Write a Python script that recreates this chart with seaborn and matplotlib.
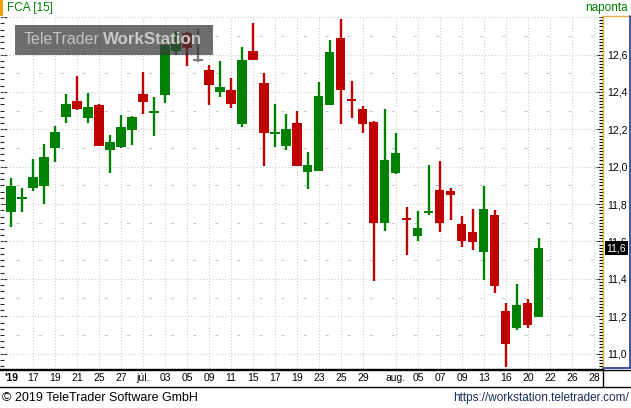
import numpy as np
import pandas as pd
import matplotlib.pyplot as plt
import seaborn as sns
from matplotlib.lines import Line2D
from matplotlib.patches import Rectangle
from matplotlib.ticker import FixedLocator, MultipleLocator, FuncFormatter
from matplotlib.transforms import blended_transform_factory

# Daily FCA prices, 13 Jun - 21 Aug 2019 (Borsa closed on 15 Aug)
opens = [11.759, 11.830, 11.888, 11.898, 12.102, 12.267, 12.351, 12.262, 12.330, 12.091,
         12.105, 12.198, 12.389, 12.292, 12.385, 12.620, 12.715, 12.571, 12.517, 12.401,
         12.410, 12.228, 12.619, 12.448, 12.178, 12.112, 12.234, 11.972, 11.977, 12.330,
         12.688, 12.360, 12.309, 12.239, 11.699, 11.966, 11.722, 11.629, 11.755, 11.875,
         11.870, 11.694, 11.651, 11.545, 11.742, 11.228, 11.139, 11.271, 11.198]
highs = [11.940, 11.886, 12.041, 12.121, 12.218, 12.389, 12.485, 12.394, 12.337, 12.170,
         12.276, 12.271, 12.506, 12.373, 12.690, 12.726, 12.720, 12.736, 12.544, 12.565,
         12.474, 12.640, 12.768, 12.501, 12.335, 12.282, 12.298, 12.079, 12.453, 12.678,
         12.790, 12.458, 12.325, 12.244, 12.309, 12.180, 11.785, 11.763, 12.009, 12.030,
         11.886, 11.736, 11.774, 11.897, 11.769, 11.271, 11.373, 11.293, 11.619]
lows = [11.679, 11.759, 11.872, 11.801, 12.027, 12.235, 12.303, 12.235, 12.112, 11.968,
        12.100, 12.118, 12.283, 12.166, 12.342, 12.597, 12.539, 12.561, 12.330, 12.373,
        12.314, 12.212, 12.571, 12.004, 12.105, 12.089, 12.004, 11.881, 11.977, 12.330,
        12.228, 12.260, 12.180, 11.389, 11.656, 11.961, 11.528, 11.603, 11.742, 11.651,
        11.715, 11.572, 11.556, 11.396, 11.326, 10.930, 11.128, 11.139, 11.198]
closes = [11.897, 11.836, 11.945, 12.052, 12.186, 12.335, 12.310, 12.319, 12.112, 12.132,
          12.212, 12.266, 12.348, 12.296, 12.651, 12.660, 12.635, 12.571, 12.437, 12.426,
          12.335, 12.571, 12.571, 12.180, 12.182, 12.202, 12.004, 12.009, 12.378, 12.613,
          12.410, 12.354, 12.228, 11.699, 12.036, 12.073, 11.718, 11.672, 11.760, 11.699,
          11.849, 11.604, 11.599, 11.774, 11.364, 11.053, 11.260, 11.155, 11.565]

tick_dates = ["2019-06-13", "2019-06-17", "2019-06-19", "2019-06-21", "2019-06-25",
              "2019-06-27", "2019-07-01", "2019-07-03", "2019-07-05", "2019-07-09",
              "2019-07-11", "2019-07-15", "2019-07-17", "2019-07-19", "2019-07-23",
              "2019-07-25", "2019-07-29", "2019-08-01", "2019-08-05", "2019-08-07",
              "2019-08-09", "2019-08-13", "2019-08-16", "2019-08-20", "2019-08-22",
              "2019-08-26", "2019-08-28"]
tick_texts = ["'19", "17", "19", "21", "25", "27", "júl.", "03", "05", "09", "11", "15",
              "17", "19", "23", "25", "29", "aug.", "05", "07", "09", "13", "16", "20",
              "22", "26", "28"]

sessions = pd.bdate_range("2019-06-13", "2019-08-28").drop(pd.Timestamp("2019-08-15"))
df = pd.DataFrame({"open": opens, "high": highs, "low": lows, "close": closes})
df["pos"] = np.arange(len(df))
tick_pos = [sessions.get_loc(pd.Timestamp(d)) for d in tick_dates]

sns.set_theme(style="white")
plt.rcParams["font.family"] = ["Liberation Sans", "DejaVu Sans"]

GREEN, RED, GREY = "#008000", "#c00000", "#7a7a7a"
GRID = "#c8c8c8"
W, H = 631, 408


def fx(x):
    return x / W


def fy(y):
    return 1 - y / H


fig = plt.figure(figsize=(W / 100, H / 100), dpi=100)
ax = fig.add_axes([0, fy(369), fx(603), (369 - 16) / H])
ax.set_facecolor("white")
ax.set_xlim(-1, 53.82)
ax.set_ylim(10.918, 12.806)

# grid: dotted major lines, sparse short dashes halfway between
for v in np.arange(11.0, 12.81, 0.2):
    ax.axhline(v, color=GRID, lw=0.75, ls=(0, (1, 2)), zorder=1)
for v in np.arange(11.1, 12.71, 0.2):
    ax.axhline(v, color=GRID, lw=0.75, ls=(5.8, (2.9, 18.3)), zorder=1)
for p in tick_pos[1:]:
    ax.axvline(p, color=GRID, lw=0.75, ls=(0, (1, 2)), zorder=1)

# candles
df["color"] = np.where(df["close"] > df["open"], GREEN,
                       np.where(df["close"] < df["open"], RED, GREY))
body = (df["close"] - df["open"]).abs()
mid = (df["close"] + df["open"]) / 2
height = body.clip(lower=0.011)
ax.vlines(df["pos"], df["low"], df["high"], colors=df["color"], lw=1.7, zorder=2)
ax.bar(df["pos"], height, bottom=mid - height / 2, width=0.82,
       color=df["color"], linewidth=0, zorder=3)

# axes styling
for s in ["top", "left"]:
    ax.spines[s].set_visible(False)
ax.spines["right"].set_color("#e0b040")
ax.spines["bottom"].set_color("black")
ax.spines["right"].set_linewidth(1)
ax.spines["bottom"].set_linewidth(1)

ax.yaxis.tick_right()
ax.yaxis.set_major_locator(FixedLocator(np.arange(11.0, 12.61, 0.2)))
ax.yaxis.set_minor_locator(MultipleLocator(0.2 / 12))
ax.yaxis.set_major_formatter(FuncFormatter(lambda v, _: f"{v:.1f}".replace(".", ",")))
ax.tick_params(axis="y", which="major", direction="in", length=5, width=0.8,
               pad=3, labelsize=7.5, colors="black", left=False, right=True)
ax.tick_params(axis="y", which="minor", direction="in", length=3, width=0.8,
               left=False, right=True, color="black")

sec = ax.secondary_yaxis("left")
sec.yaxis.set_major_locator(FixedLocator(np.arange(11.0, 12.81, 0.2)))
sec.yaxis.set_minor_locator(MultipleLocator(0.2 / 6))
sec.tick_params(which="major", direction="in", length=5, width=0.8, labelleft=False)
sec.tick_params(which="minor", direction="in", length=3, width=0.8)
sec.spines["left"].set_visible(False)

ax.set_xticks(tick_pos, tick_texts)
ax.tick_params(axis="x", length=0, pad=3, labelsize=7.5, colors="black")
ax.get_xticklabels()[0].set_fontweight("bold")
ax.set_xlabel("")
ax.set_ylabel("")

# last price flag
last = df["close"].iloc[-1]
ax.text(1.006, last, f"{last:.1f}".replace(".", ","),
        transform=blended_transform_factory(ax.transAxes, ax.transData),
        color="white", fontsize=7.5, va="center", ha="left", clip_on=False, zorder=20,
        bbox=dict(boxstyle="square,pad=0.2", fc="black", ec="none"))


def line(x0, y0, x1, y1, color, lw=1.0):
    fig.add_artist(Line2D([fx(x0), fx(x1)], [fy(y0), fy(y1)], color=color, lw=lw,
                          transform=fig.transFigure))


# frame around the price scale and the date row
line(603, 16, 629.5, 16, "#e0b040")
line(629.5, 16, 629.5, 368, "#203a8f", 1.2)
line(603, 368, 629.5, 368, "#203a8f", 1.2)
line(0, 369.5, 631, 369.5, "black")
line(0, 386.5, 631, 386.5, "black")
line(602.5, 369.5, 602.5, 386.5, "black")

# header
fig.add_artist(Rectangle((0, fy(16)), fx(3), 16 / H, transform=fig.transFigure,
                         fc="#f5a000", ec="none"))
fig.text(fx(7), fy(8.5), "FCA [15]", color=GREEN, fontsize=8.5, va="center", ha="left")
fig.text(fx(628), fy(8.5), "naponta", color=GREEN, fontsize=8.5, va="center", ha="right")

# watermark
fig.add_artist(Rectangle((fx(15), fy(55)), fx(198), 30 / H, transform=fig.transFigure,
                         fc="#3c3c3c", ec="none", alpha=0.75, zorder=10))
fig.text(fx(24), fy(40), "TeleTrader", color="#c4c4c4", fontsize=11.5,
         va="center", ha="left", zorder=11)
fig.text(fx(103), fy(40), "WorkStation", color="#c8c8c8", fontsize=12.2,
         fontweight="bold", va="center", ha="left", zorder=11)

# footer
fig.text(fx(2), fy(398), "© 2019 TeleTrader Software GmbH", color="black",
         fontsize=9, va="center", ha="left")
fig.text(fx(629), fy(398), "https://workstation.teletrader.com/", color="#1c2d5c",
         fontsize=8.5, va="center", ha="right")

fig.savefig("out.png", dpi=100, facecolor="white")
